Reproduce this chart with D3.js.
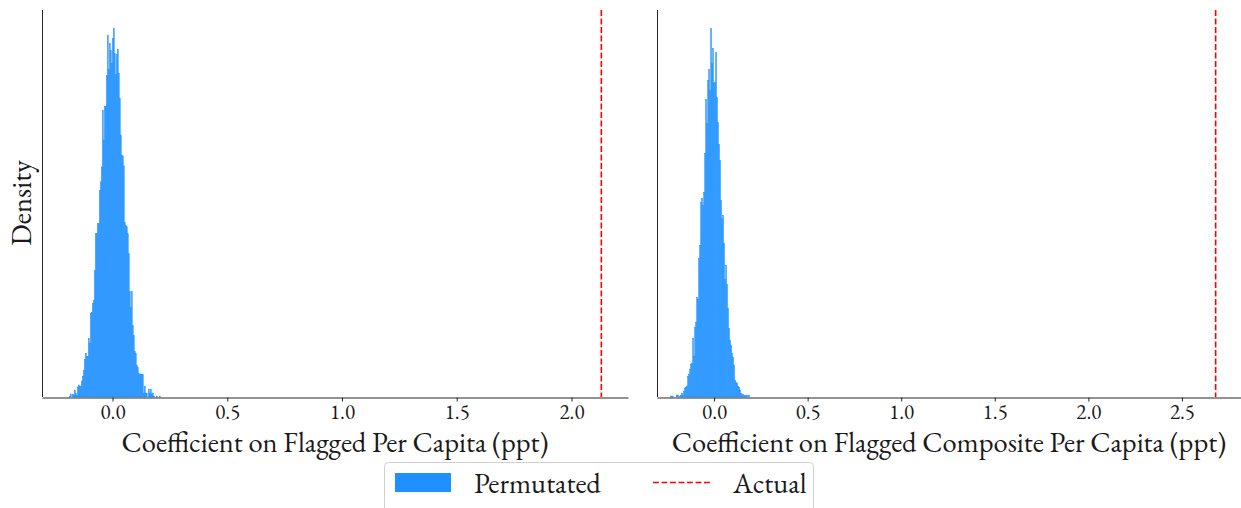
<!DOCTYPE html>
<html>
<head>
<meta charset="utf-8">
<script src="https://cdn.jsdelivr.net/npm/d3@7"></script>
<style>
  html, body { margin: 0; padding: 0; background: #fff; }
  svg text { font-family: "EB Garamond", Garamond, "Liberation Serif", "DejaVu Serif", serif; fill: #1a1a1a; }
</style>
</head>
<body>
<svg id="chart" width="1241" height="508"></svg>
<script>
// Permutation distribution of the coefficient, per-bin counts (left to right)
const flaggedBinStart = -0.188;
const flaggedBinWidth = 0.004357;
const flaggedCounts = [
  1, 3, 0, 3, 2, 7, 4, 2, 10, 12, 11, 11, 16, 21, 27, 38, 44, 41, 41, 59,
  54, 84, 85, 94, 97, 127, 164, 164, 174, 174, 207, 216, 231, 288, 258, 292, 292, 323, 363, 329,
  355, 348, 335, 360, 370, 345, 324, 344, 349, 325, 300, 263, 243, 242, 232, 175, 172, 171, 164, 144,
  106, 90, 106, 72, 62, 46, 44, 32, 30, 24, 23, 23, 23, 23, 4, 11, 4, 4, 0, 8,
  4, 8, 3, 4, 1, 0, 0, 1, 0, 0, 1
];
const flaggedActual = 2.13;

const compositeBinStart = -0.2326;
const compositeBinWidth = 0.005348;
const compositeCounts = [
  1, 1, 1, 0, 0, 0, 2, 2, 0, 1,
  2, 4, 2, 6, 9, 10, 11, 21, 23, 28, 33, 34, 59, 41, 70, 75, 100, 98, 139, 152,
  195, 199, 192, 205, 244, 298, 274, 317, 328, 307, 369,
  334, 349, 314, 315, 345, 300, 275, 253, 237, 197, 179, 182, 154, 118, 132, 113, 89, 69, 57,
  52, 44, 40, 32, 17, 15, 14, 11, 10, 7, 4, 2, 3, 1, 2, 1, 2, 0, 2
];
const compositeActual = 2.68;

const leftTicks = [0, 0.5, 1.0, 1.5, 2.0];
const rightTicks = [0, 0.5, 1.0, 1.5, 2.0, 2.5];
const leftTitle = "Coefficient on Flagged Per Capita (ppt)";
const rightTitle = "Coefficient on Flagged Composite Per Capita (ppt)";
const legendLabels = ["Permutated", "Actual"];

const BLUE = "#1E90FF";
const RED = "#FF0000";
const AXIS = "#262626";
const LABEL_SIZE = 28.5;
const TICK_SIZE = 21;

const svg = d3.select("#chart");

function panel(opts) {
  const g = svg.append("g");
  const x = d3.scaleLinear().domain(opts.xDomain).range(opts.xRange);
  const total = d3.sum(opts.counts);
  const bins = opts.counts.map((c, i) => {
    const x0 = opts.start + i * opts.width;
    return { x0, x1: x0 + opts.width, density: c / (total * opts.width) };
  });
  const maxD = d3.max(bins, d => d.density);
  const y = d3.scaleLinear().domain([0, maxD * 1.05]).range([397, 10]);

  // histogram bars; a hairline stroke in the fill colour closes antialiasing seams
  g.append("g").selectAll("rect")
    .data(bins.filter(b => b.density > 0))
    .join("rect")
    .attr("x", d => x(d.x0))
    .attr("width", d => x(d.x1) - x(d.x0))
    .attr("y", d => y(d.density))
    .attr("height", d => y(0) - y(d.density))
    .attr("fill", BLUE)
    .attr("stroke", BLUE)
    .attr("stroke-width", 0.35);

  g.append("line")
    .attr("x1", x(opts.actual)).attr("x2", x(opts.actual))
    .attr("y1", y.range()[1]).attr("y2", y.range()[0])
    .attr("stroke", RED).attr("stroke-width", 1.6)
    .attr("stroke-dasharray", "5.9,2.6");

  // left spine
  g.append("line")
    .attr("x1", opts.xRange[0] + 0.5).attr("x2", opts.xRange[0] + 0.5)
    .attr("y1", 10).attr("y2", 397)
    .attr("stroke", AXIS).attr("stroke-width", 1);

  const axis = d3.axisBottom(x)
    .tickValues(opts.ticks)
    .tickFormat(d3.format(".1f"))
    .tickSizeInner(4)
    .tickSizeOuter(0)
    .tickPadding(3);
  const ax = g.append("g").attr("transform", "translate(0,397.5)").call(axis);
  ax.select(".domain").attr("stroke", AXIS).attr("stroke-width", 1);
  ax.selectAll(".tick line").attr("stroke", AXIS);
  ax.selectAll(".tick text")
    .attr("font-size", TICK_SIZE)
    .attr("fill", "#1a1a1a")
    .style("font-family", '"EB Garamond", Garamond, "Liberation Serif", serif');

  g.append("text")
    .attr("x", (opts.xRange[0] + opts.xRange[1]) / 2)
    .attr("y", 452)
    .attr("text-anchor", "middle")
    .attr("font-size", LABEL_SIZE)
    .text(opts.title);
}

panel({
  counts: flaggedCounts, start: flaggedBinStart, width: flaggedBinWidth,
  actual: flaggedActual, ticks: leftTicks, title: leftTitle,
  xDomain: [-0.3072, 2.2462], xRange: [42, 628]
});
panel({
  counts: compositeCounts, start: compositeBinStart, width: compositeBinWidth,
  actual: compositeActual, ticks: rightTicks, title: rightTitle,
  xDomain: [-0.3048, 2.8155], xRange: [657, 1241]
});

// y-axis label
svg.append("text")
  .attr("transform", "translate(31,203) rotate(-90)")
  .attr("text-anchor", "middle")
  .attr("font-size", LABEL_SIZE)
  .text("Density");

// legend
const leg = svg.append("g");
leg.append("rect")
  .attr("x", 384.5).attr("y", 462.5)
  .attr("width", 429).attr("height", 52)
  .attr("rx", 4)
  .attr("fill", "#fff")
  .attr("stroke", "#d0d0d0");
leg.append("rect")
  .attr("x", 395).attr("y", 473)
  .attr("width", 56).attr("height", 19)
  .attr("fill", BLUE);
leg.append("text")
  .attr("x", 474).attr("y", 493)
  .attr("font-size", LABEL_SIZE)
  .text(legendLabels[0]);
leg.append("line")
  .attr("x1", 653).attr("x2", 710)
  .attr("y1", 482.5).attr("y2", 482.5)
  .attr("stroke", RED).attr("stroke-width", 1.6)
  .attr("stroke-dasharray", "5.9,2.6");
leg.append("text")
  .attr("x", 733).attr("y", 493)
  .attr("font-size", LABEL_SIZE)
  .text(legendLabels[1]);
</script>
</body>
</html>
